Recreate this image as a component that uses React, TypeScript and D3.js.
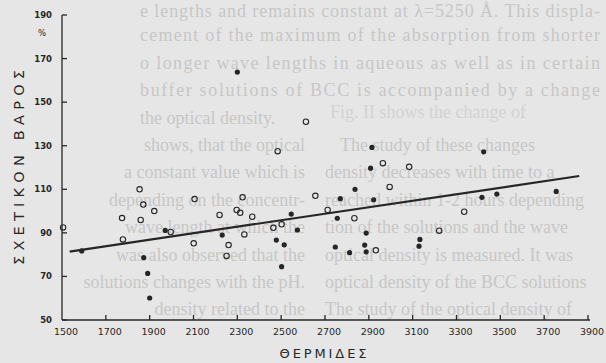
import React from "react";
import * as d3 from "d3";

// ---- data ----
const xTicks = [1500, 1700, 1900, 2100, 2300, 2500, 2700, 2900, 3100, 3300, 3500, 3700, 3900];
const yTicks = [50, 70, 90, 110, 130, 150, 170, 190];

const openX = [1505, 1854, 1871, 1921, 1774, 1859, 1778, 1996, 2105, 2101, 2219, 2297, 2313, 2324, 2332, 2260, 2251, 2368, 2464, 2502, 2484, 2613, 2656, 2712, 2834, 2964, 3084, 2995, 2932, 3221, 3335];
const openY = [92.5, 110, 103, 100, 96.8, 95.9, 87, 90.4, 105.5, 85.2, 98.2, 100.5, 99.2, 106.3, 89.3, 84.4, 79.4, 97.4, 92.3, 93.9, 127.5, 141, 107, 100.5, 96.7, 122, 120.3, 111.1, 82, 91, 99.7];

const filledX = [1590, 1971, 2231, 1873, 1891, 1900, 2300, 2914, 2908, 2837, 2770, 2922, 2546, 2756, 2574, 2478, 2514, 2502, 2888, 2881, 2888, 2747, 2812, 3133, 3129, 3424, 3416, 3484, 3755];
const filledY = [81.7, 91.1, 89, 78.6, 71.4, 60.1, 163.8, 129.2, 119.7, 110, 105.7, 105.2, 98.6, 96.7, 91.3, 86.7, 84.5, 74.5, 89.9, 84.4, 81.3, 83.5, 80.9, 87, 83.9, 127.2, 106.3, 107.8, 109];

const trendX = [1535, 3860];
const trendY = [81.4, 116.1];

const xTitle = "ΘΕΡΜΙΔΕΣ";
const yTitle = "ΣΧΕΤΙΚΟΝ ΒΑΡΟΣ";
const yUnit = "%";

// faint show-through text of the scanned page
const fullLines = [
  "e lengths and remains constant at λ=5250 Å. This displa-",
  "cement of the maximum of the absorption from shorter",
  "o longer wave lengths in aqueous as well as in certain",
  "buffer solutions of BCC is accompanied by a change",
];
const line5 = "the optical density.";
const line5b = "Fig. II shows the change of";
const leftParts = [
  "shows, that the optical",
  "a constant value which is",
  "depending on the concentr-",
  "wave length at which the",
  "was also observed that the",
  "solutions changes with the pH.",
  "density related to the",
];
const rightParts = [
  "The study of these changes",
  "density decreases with time to a",
  "reached within 1-2 hours depending",
  "tion of the solutions and the wave",
  "optical density is measured. It was",
  "optical density of the BCC solutions",
  "The study of the optical density of",
];

const W = 606;
const H = 363;

export default function App() {
  const x = d3.scaleLinear().domain([1500, 3900]).range([62, 588]);
  const y = d3.scaleLinear().domain([50, 190]).range([320, 15]);
  const ink = "#262626";
  const bleed = "#c6c6c6";
  const lineGen = d3
    .line<number>()
    .x((d) => x(d))
    .y((_, i) => y(trendY[i]));
  const base = (i: number) => (i === 0 ? 17 : 14 + i * 27.4);
  const serif = "'Liberation Serif', 'DejaVu Serif', serif";
  const sans = "'DejaVu Sans', sans-serif";

  return (
    <svg
      width={W}
      height={H}
      style={{ position: "absolute", left: 0, top: 0, display: "block" }}
    >
      <rect x={0} y={0} width={W} height={H} fill="#e6e6e6" />
      {/* show-through text */}
      <g fontFamily={serif} fontSize={18} fill={bleed}>
        {fullLines.map((t, i) => (
          <text key={"f" + i} x={140} y={base(i)} textLength={460} lengthAdjust="spacing">
            {t}
          </text>
        ))}
        <text x={140} y={base(4)}>{line5}</text>
        <text x={330} y={base(4) - 6} fill="#d2d2d2">{line5b}</text>
        {leftParts.map((t, i) => (
          <text key={"l" + i} x={305} y={base(5 + i)} textAnchor="end">
            {t}
          </text>
        ))}
        {rightParts.map((t, i) => (
          <text key={"r" + i} x={i === 0 ? 340 : 325} y={base(5 + i)}>
            {t}
          </text>
        ))}
      </g>

      {/* axes */}
      <g stroke={ink} strokeWidth={1.3} fill="none">
        <line x1={x(1500)} x2={x(1500)} y1={y(190)} y2={y(50)} />
        <line x1={x(1500)} x2={x(3900) + 2} y1={y(50)} y2={y(50)} />
        {yTicks.map((t) => (
          <line key={"yt" + t} x1={x(1500)} x2={x(1500) + 5} y1={y(t)} y2={y(t)} />
        ))}
        {xTicks.slice(1).map((t) => (
          <line key={"xt" + t} x1={x(t)} x2={x(t)} y1={y(50)} y2={y(50) - 5} />
        ))}
      </g>
      <g fontFamily={sans} fontSize={8.5} fontWeight="bold" fill={ink} textAnchor="end">
        {yTicks.map((t) => (
          <text key={"yl" + t} x={x(1500) - 10} y={y(t) + 3}>
            {t}
          </text>
        ))}
      </g>
      <text x={42} y={36} fontFamily={sans} fontSize={8.5} fill={ink} textAnchor="middle">
        {yUnit}
      </text>
      <g fontFamily={sans} fontSize={9.5} fill={ink} textAnchor="middle">
        {xTicks.map((t) => (
          <text key={"xl" + t} x={x(t) + 4} y={335}>
            {t}
          </text>
        ))}
      </g>
      <text
        x={323}
        y={358}
        fontFamily={sans}
        fontSize={13}
        fill={ink}
        textAnchor="middle"
        textLength={87}
        lengthAdjust="spacing"
      >
        {xTitle}
      </text>
      <text
        transform="translate(24,167.5) rotate(-90)"
        fontFamily={sans}
        fontSize={14.5}
        fill={ink}
        textAnchor="middle"
        textLength={195}
        lengthAdjust="spacing"
      >
        {yTitle}
      </text>

      {/* trend line */}
      <path d={lineGen(trendX) || ""} stroke={ink} strokeWidth={2.2} fill="none" />

      {/* points */}
      <g>
        {openX.map((v, i) => (
          <circle
            key={"o" + i}
            cx={x(v)}
            cy={y(openY[i])}
            r={2.7}
            fill="none"
            stroke={ink}
            strokeWidth={1.1}
          />
        ))}
        {filledX.map((v, i) => (
          <circle key={"d" + i} cx={x(v)} cy={y(filledY[i])} r={2.6} fill={ink} />
        ))}
      </g>
    </svg>
  );
}
